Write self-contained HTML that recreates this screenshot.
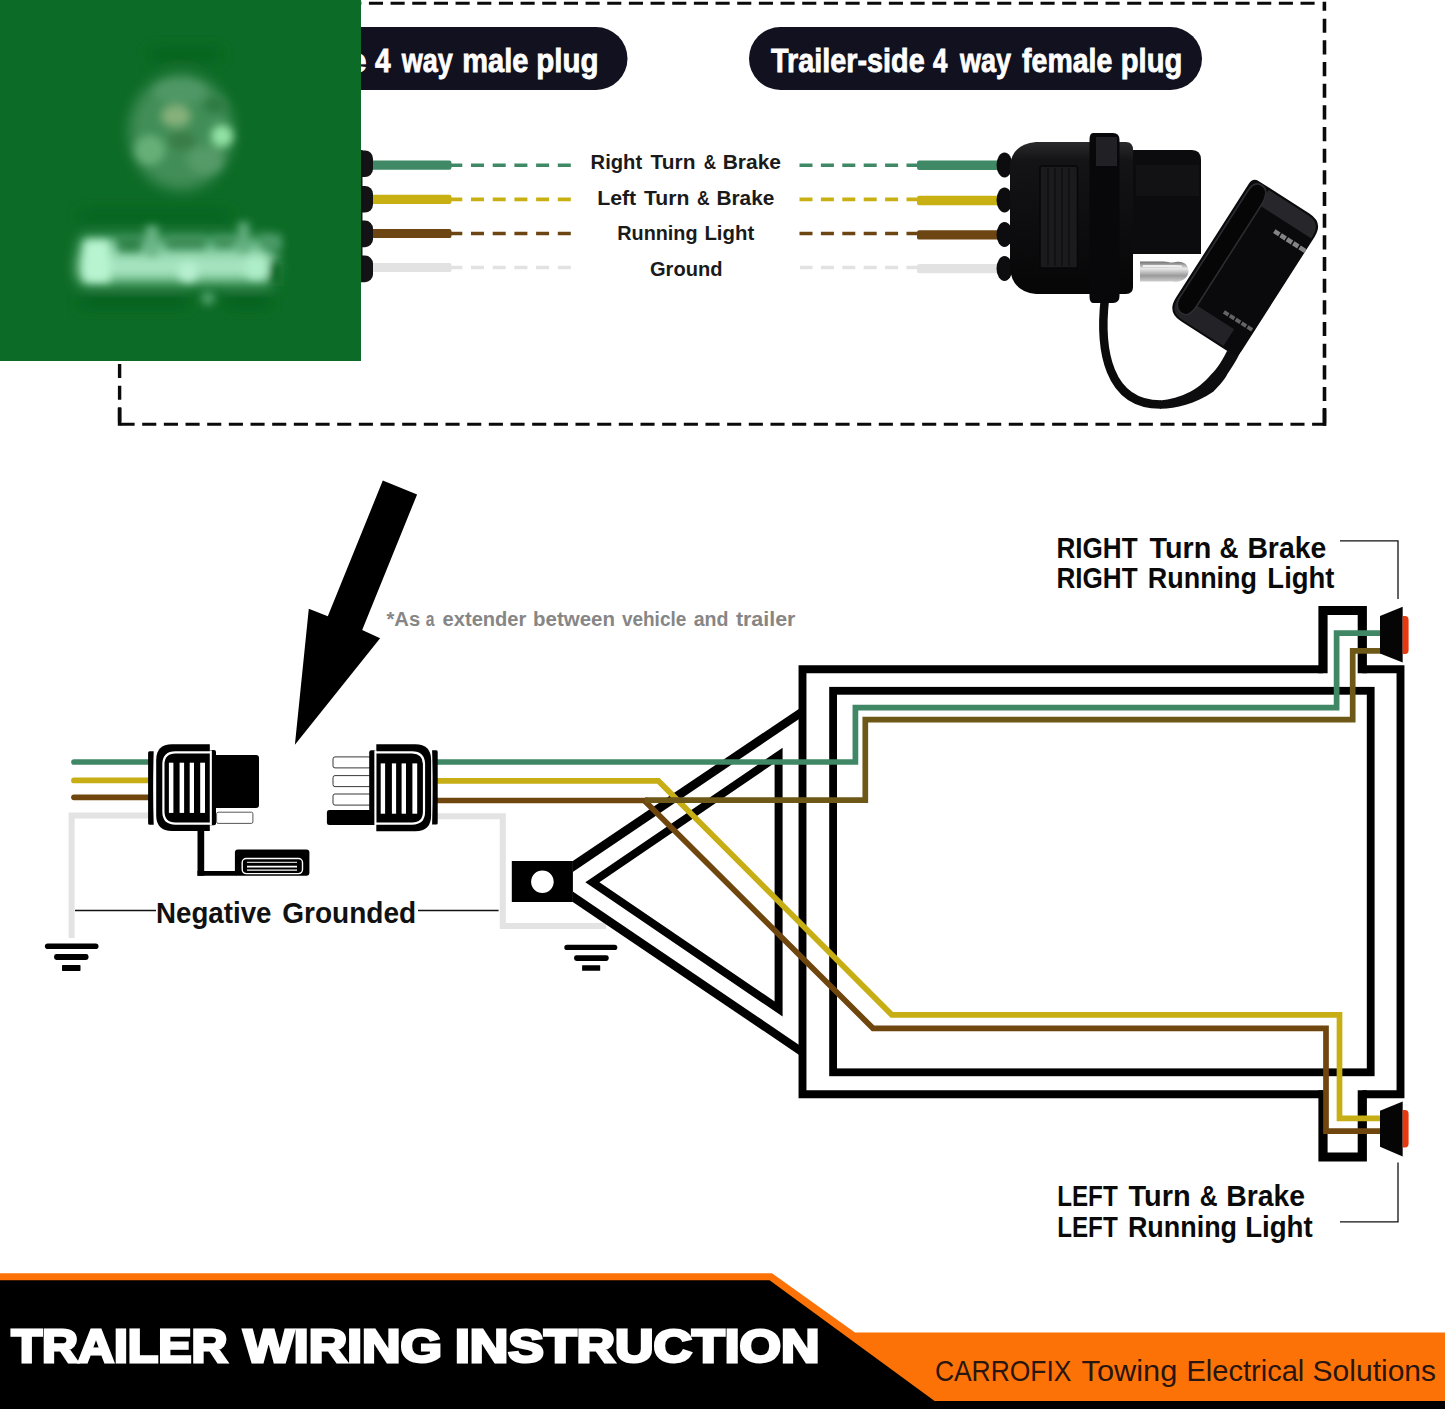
<!DOCTYPE html>
<html>
<head>
<meta charset="utf-8">
<title>Trailer Wiring Instruction</title>
<style>
html,body{margin:0;padding:0;background:#fff;}
body{width:1445px;height:1409px;overflow:hidden;font-family:"Liberation Sans",sans-serif;}
svg{display:block;}
text{font-family:"Liberation Sans",sans-serif;}
</style>
</head>
<body>
<svg width="1445" height="1409" viewBox="0 0 1445 1409">
<defs>
  <filter id="blur8" x="-30%" y="-30%" width="160%" height="160%"><feGaussianBlur stdDeviation="7"/></filter>
  <filter id="blur5" x="-30%" y="-30%" width="160%" height="160%"><feGaussianBlur stdDeviation="4.5"/></filter>
  <filter id="blur3" x="-30%" y="-30%" width="160%" height="160%"><feGaussianBlur stdDeviation="3"/></filter>
  <filter id="blur1" x="-10%" y="-10%" width="120%" height="120%"><feGaussianBlur stdDeviation="0.6"/></filter>
  <linearGradient id="bodyg" x1="0" y1="0" x2="0" y2="1">
    <stop offset="0" stop-color="#2a2a2c"/><stop offset="0.12" stop-color="#141416"/><stop offset="1" stop-color="#060607"/>
  </linearGradient>
  <linearGradient id="pin" x1="0" y1="0" x2="0" y2="1">
    <stop offset="0" stop-color="#6d6d6d"/><stop offset="0.35" stop-color="#e8e8e8"/><stop offset="0.7" stop-color="#9a9a9a"/><stop offset="1" stop-color="#d0d0d0"/>
  </linearGradient>
</defs>
<rect x="0" y="0" width="1445" height="1409" fill="#ffffff"/>

<!-- ===== TOP DASHED BOX ===== -->
<g id="dashbox" fill="none" stroke="#0a0a0a">
  <path d="M1314.6 3.3 H361" stroke-width="3" stroke-dasharray="14.1 7.565"/>
  <path d="M1324.5 18.7 V423" stroke-width="3.6" stroke-dasharray="14.1 7.565"/>
  <path d="M1326.2 424.3 H118" stroke-width="3" stroke-dasharray="14.1 7.565"/>
  <path d="M119.6 421.4 V361" stroke-width="3.4" stroke-dasharray="14.1 7.565"/>
  <path d="M1324.4 1.7 V10.8 M1324.5 408 V425.8 M119.6 408 V425.8" stroke-width="3.6"/>
</g>

<!-- pills -->
<g id="pills">
  <path d="M340 27 H596 A31.5 31.5 0 0 1 596 90 H340 Z" fill="#11111f"/>
  <rect x="749" y="27" width="453" height="63" rx="31.5" fill="#11111f"/>
  <g id="t_pill1" font-size="33" font-weight="700" fill="#fff" stroke="#fff" stroke-width="0.8">
  <text x="374.90" y="72" textLength="15.65" lengthAdjust="spacingAndGlyphs">4</text>
  <text x="401.82" y="72" textLength="51.05" lengthAdjust="spacingAndGlyphs">way</text>
  <text x="462.34" y="72" textLength="66.07" lengthAdjust="spacingAndGlyphs">male</text>
  <text x="536.31" y="72" textLength="62.21" lengthAdjust="spacingAndGlyphs">plug</text>
</g>
  <text x="366.5" y="72" font-size="33" font-weight="700" fill="#fff" stroke="#fff" stroke-width="0.8" text-anchor="end">Vehicle-side</text>
  <g id="t_pill2" font-size="33" font-weight="700" fill="#fff" stroke="#fff" stroke-width="0.8">
  <text x="771.10" y="72" textLength="153.61" lengthAdjust="spacingAndGlyphs">Trailer-side</text>
  <text x="933.10" y="72" textLength="14.39" lengthAdjust="spacingAndGlyphs">4</text>
  <text x="960.02" y="72" textLength="51.05" lengthAdjust="spacingAndGlyphs">way</text>
  <text x="1022.10" y="72" textLength="90.10" lengthAdjust="spacingAndGlyphs">female</text>
  <text x="1120.83" y="72" textLength="61.47" lengthAdjust="spacingAndGlyphs">plug</text>
</g>
</g>

<!-- top wires -->
<g id="topwires">
  <g stroke="#3f8966" fill="#3f8966">
    <rect x="350" y="160.6" width="101.5" height="9.2" rx="2.2" stroke="none"/>
    <path d="M451 165.2 H571" stroke-width="3.6" stroke-dasharray="11.3 8.7 13 8.7 13 8.7 13 8.7 13 8.7 13 8.7" fill="none"/>
    <path d="M918 165.2 H799" stroke-width="3.6" stroke-dasharray="11.5 8.4 13 8.4 13 8.4 13 8.4 13 8.4 13 8.4" fill="none"/>
    <rect x="917" y="160.60000000000002" width="83" height="9.4" rx="2.2" stroke="none"/>
  </g>
  <g stroke="#c8b013" fill="#c8b013">
    <rect x="350" y="194.8" width="101.5" height="9.2" rx="2.2" stroke="none"/>
    <path d="M451 199.4 H571" stroke-width="3.6" stroke-dasharray="11.3 8.7 13 8.7 13 8.7 13 8.7 13 8.7 13 8.7" fill="none"/>
    <path d="M918 199.4 H799" stroke-width="3.6" stroke-dasharray="11.5 8.4 13 8.4 13 8.4 13 8.4 13 8.4 13 8.4" fill="none"/>
    <rect x="917" y="195.8" width="83" height="9.4" rx="2.2" stroke="none"/>
  </g>
  <g stroke="#6c4513" fill="#6c4513">
    <rect x="350" y="228.9" width="101.5" height="9.2" rx="2.2" stroke="none"/>
    <path d="M451 233.5 H571" stroke-width="3.6" stroke-dasharray="11.3 8.7 13 8.7 13 8.7 13 8.7 13 8.7 13 8.7" fill="none"/>
    <path d="M918 233.5 H797" stroke-width="3.6" stroke-dasharray="11.5 8.4 13 8.4 13 8.4 13 8.4 13 8.4 13 8.4" fill="none"/>
    <rect x="917" y="230.20000000000002" width="83" height="9.4" rx="2.2" stroke="none"/>
  </g>
  <g stroke="#e2e2e2" fill="#e2e2e2">
    <rect x="350" y="262.9" width="101.5" height="9.2" rx="2.2" stroke="none"/>
    <path d="M451 267.5 H575" stroke-width="3.6" stroke-dasharray="11.3 8.7 13 8.7 13 8.7 13 8.7 13 8.7 13 8.7" fill="none"/>
    <path d="M918 267.5 H800" stroke-width="3.6" stroke-dasharray="11.5 8.4 13 8.4 13 8.4 13 8.4 13 8.4 13 8.4" fill="none"/>
    <rect x="917" y="263.90000000000003" width="83" height="9.4" rx="2.2" stroke="none"/>
  </g>
</g>

<!-- male plug nubs peeking out from under overlay -->
<g fill="#131315">
  <rect x="350" y="150.4" width="23" height="26.6" rx="8"/>
  <rect x="350" y="186" width="23" height="26.6" rx="8"/>
  <rect x="350" y="220.6" width="23" height="26.6" rx="8"/>
  <rect x="350" y="255.6" width="23" height="26.6" rx="8"/>
  <rect x="350" y="150" width="12.5" height="130"/>
</g>

<!-- top labels -->
<g id="toplabels">
<g id="t_lab1" font-size="20.5" font-weight="700" fill="#1a1a1a">
  <text x="590.62" y="168.8" textLength="51.51" lengthAdjust="spacingAndGlyphs">Right</text>
  <text x="650.60" y="168.8" textLength="44.83" lengthAdjust="spacingAndGlyphs">Turn</text>
  <text x="703.70" y="168.8" textLength="12.34" lengthAdjust="spacingAndGlyphs">&amp;</text>
  <text x="722.68" y="168.8" textLength="58.33" lengthAdjust="spacingAndGlyphs">Brake</text>
</g>
<g id="t_lab2" font-size="20.5" font-weight="700" fill="#1a1a1a">
  <text x="597.16" y="204.6" textLength="39.06" lengthAdjust="spacingAndGlyphs">Left</text>
  <text x="643.90" y="204.6" textLength="45.44" lengthAdjust="spacingAndGlyphs">Turn</text>
  <text x="697.10" y="204.6" textLength="12.63" lengthAdjust="spacingAndGlyphs">&amp;</text>
  <text x="716.48" y="204.6" textLength="57.92" lengthAdjust="spacingAndGlyphs">Brake</text>
</g>
<g id="t_lab3" font-size="20.5" font-weight="700" fill="#1a1a1a">
  <text x="617.23" y="239.8" textLength="80.37" lengthAdjust="spacingAndGlyphs">Running</text>
  <text x="704.41" y="239.8" textLength="49.82" lengthAdjust="spacingAndGlyphs">Light</text>
</g>
<g id="t_lab4" font-size="20.5" font-weight="700" fill="#1a1a1a">
  <text x="650.00" y="275.5" textLength="72.51" lengthAdjust="spacingAndGlyphs">Ground</text>
</g>
</g>

<!-- ===== CONNECTOR PHOTO (approx) ===== -->
<g id="photo">
  <!-- tether cable -->
  <path d="M1105 298 C1099 350 1108 405 1161 404.6" fill="none" stroke="#0b0b0c" stroke-width="8.5"/>
  <path d="M1227 351 C1220 365 1214 372 1211.5 374.1 C1204 383 1196 389 1190.2 391.8 C1180 397 1170 400 1160 400.4 L1160 408.8 C1175 409 1195 404 1213.2 391.8 C1220 385 1225 379 1227.4 374.1 C1232 367 1236 361 1240 353 Z" fill="#0d0d0f"/>
  <!-- silver pin -->
  <path d="M1140 261.5 H1162 C1168 261 1170 263.5 1176 262 C1184 261 1188.5 265 1188.5 271 C1188.5 279 1180 283 1172 281.5 H1140 Z" fill="url(#pin)"/>
  <path d="M1143 266 H1166 C1172 266.5 1176 265.5 1182 266.5" stroke="#f4f4f4" stroke-width="2.2" fill="none" opacity="0.9"/>
  <!-- plug front block -->
  <path d="M1128 150 H1192 Q1201 150 1201 160 V254 H1128 Z" fill="#0c0c0e"/>
  <path d="M1136 165 H1199 V196 H1136 Z" fill="#141416" opacity="0.8"/>
  <!-- nubs -->
  <g fill="#0d0d0f">
    <ellipse cx="1004.5" cy="165" rx="8" ry="12.5"/>
    <ellipse cx="1004.5" cy="200" rx="8" ry="12.5"/>
    <ellipse cx="1004.5" cy="234.5" rx="8" ry="12.5"/>
    <ellipse cx="1004.5" cy="268.5" rx="8" ry="12.5"/>
  </g>
  <!-- main body -->
  <path d="M1036 142 H1126 Q1133 142 1133 150 V287 Q1133 294 1126 294 H1036 Q1012 292 1010 268 V166 Q1012 144 1036 142 Z" fill="url(#bodyg)"/>
  <rect x="1040" y="166" width="37.5" height="102" rx="2" fill="#1b1b1d" stroke="#070708" stroke-width="1.5"/>
  <g stroke="#0a0a0b" stroke-width="1.2" opacity="0.8">
    <path d="M1048 168 V266 M1055 168 V266 M1062 168 V266 M1069 168 V266"/>
  </g>
  <!-- collar -->
  <path d="M1093 133 H1113 Q1119.5 133 1119.5 140 V296 Q1119.5 303 1113 303 H1093 Q1089.5 303 1089.5 296 V140 Q1089.5 133 1093 133 Z" fill="#08080a"/>
  <path d="M1096 137 H1117 V166 H1096 Z" fill="#2a2a2f" opacity="0.75"/>
  <!-- cap -->
  <g transform="translate(1245.2 267.4) rotate(32.6)">
    <path d="M-35 -80 H25 Q42 -80 42 -63 V73 Q42 80 35 80 H-25 Q-42 80 -42 63 V-73 Q-42 -80 -35 -80 Z" fill="#0a0a0c"/>
    <path d="M-22 -78 H25 Q40 -78 40 -63 V-60 H-22 Z" fill="#26262b"/>
    <path d="M-40 58 H24 V78 H-25 Q-40 78 -40 63 Z" fill="#222227"/>
    <path d="M-39 -66 Q-39 -78 -30 -78 Q-20 -78 -20 -60 V58 Q-20 74 -30 73 Q-40 71 -39 56 Z" fill="#060607" stroke="#2c2c31" stroke-width="1.6"/>
    <g fill="#9a9a9a" opacity="0.85">
      <rect x="5" y="-48.5" width="6" height="4.6"/><rect x="12.5" y="-48.5" width="6" height="4.6"/><rect x="20" y="-48.5" width="6" height="4.6"/><rect x="27.5" y="-48.5" width="6" height="4.6"/><rect x="35" y="-48.5" width="7" height="4.6"/>
    </g>
    <g fill="#8a8a8a" opacity="0.7">
      <rect x="6" y="47" width="5.5" height="3.8"/><rect x="13" y="47" width="5.5" height="3.8"/><rect x="20" y="47" width="5.5" height="3.8"/><rect x="27" y="47" width="5.5" height="3.8"/><rect x="34" y="47" width="5.5" height="3.8"/>
    </g>
  </g>
</g>

<!-- ===== GREEN OVERLAY (blurred logo) ===== -->
<g id="greenbox">
  <rect x="0" y="0" width="361" height="361" fill="#0c6b26"/>
  <g filter="url(#blur8)">
    <ellipse cx="181" cy="132" rx="52" ry="58" fill="#438e59"/>
    <rect x="150" y="50" width="70" height="9" fill="#07601f"/>
  </g>
  <g filter="url(#blur5)">
    <ellipse cx="180" cy="92" rx="26" ry="12" fill="#4f9866"/>
    <circle cx="222" cy="136" r="11" fill="#92e2a4"/>
    <ellipse cx="176" cy="116" rx="15" ry="11" fill="#86b07a"/>
    <circle cx="150" cy="150" r="15" fill="#66b078"/>
    <ellipse cx="182" cy="141" rx="14" ry="9" fill="#3a7c46"/>
    <ellipse cx="205" cy="160" rx="18" ry="14" fill="#559a68"/>
    <ellipse cx="215" cy="105" rx="12" ry="8" fill="#2f7a42"/>
  </g>
  <g filter="url(#blur8)">
    <rect x="78" y="252" width="198" height="30" rx="6" fill="#a6e4bf"/>
    <rect x="80" y="238" width="190" height="16" rx="4" fill="#6fbf8f"/>
    <rect x="80" y="298" width="108" height="8" fill="#045c1c"/>
    <rect x="225" y="298" width="45" height="8" fill="#045c1c"/>
    <rect x="80" y="213" width="150" height="7" fill="#06601f"/>
  </g>
  <g filter="url(#blur5)">
    <rect x="84" y="240" width="26" height="42" fill="#b8f4d0"/>
    <rect x="118" y="236" width="24" height="16" fill="#2f8249"/>
    <rect x="146" y="226" width="12" height="30" fill="#6cb587"/>
    <rect x="166" y="236" width="40" height="13" fill="#3b8a55"/>
    <rect x="238" y="222" width="11" height="30" fill="#62ad7e"/>
    <rect x="214" y="236" width="20" height="12" fill="#3f8f5a"/>
    <rect x="262" y="234" width="20" height="16" fill="#4c9a68"/>
    <circle cx="188" cy="272" r="10" fill="#b8f0d2"/>
    <circle cx="256" cy="268" r="11" fill="#aeeec8"/>
    <circle cx="208" cy="298" r="7" fill="#4fa06a"/>
    <rect x="270" y="262" width="14" height="24" fill="#0c6b26"/>
  </g>
</g>

<!-- ===== MIDDLE DIAGRAM ===== -->
<g id="frame" fill="none" stroke="#000" stroke-linejoin="miter">
  <!-- outer frame with lamp notches -->
  <path d="M1323 669.3 H802.5 V1094.2 H1323" stroke-width="7.9"/>
  <path d="M1362.3 669.3 H1400.5 V1094.2 H1362.3" stroke-width="7.9"/>
  <path d="M1323 673.25 V610.5 H1362.3 V673.25" stroke-width="9.2"/>
  <path d="M1323 1090.25 V1157 H1362.3 V1090.25" stroke-width="9.2"/>
  <!-- inner rect -->
  <rect x="833.1" y="690.8" width="537.6" height="381.5" stroke-width="7.8"/>
  <!-- A-frame outer -->
  <path d="M572.8 861.1 L799.5 708.4 V718.7 L572.8 871.9 Z" fill="#000" stroke="none"/>
  <!-- inner triangle -->
  <path d="M592.4 882.2 L778.6 755.4 V1009 Z" stroke-width="8"/>
</g>
<!-- hitch block -->
<path d="M511.8 861.1 H572.9 V902 H511.8 Z M553.7 881.8 A11.3 11.3 0 1 0 531.1 881.8 A11.3 11.3 0 1 0 553.7 881.8 Z" fill="#000" fill-rule="evenodd"/>

<!-- gray ground wires -->
<g fill="none" stroke="#e3e3e3" stroke-width="6" stroke-linejoin="miter">
  <path d="M150 815.5 H71.6 V938"/>
  <path d="M437 816.2 H502.8 V926 H606"/>
</g>
<!-- hitch lines over gray wire -->
<path d="M572.8 902 L799.5 1055.2 V1045.2 L572.8 891.4 Z" fill="#000"/>

<!-- coloured wires -->
<g fill="none" stroke-width="5.7" stroke-linejoin="miter">
  <path d="M74 797.3 H150" stroke="#70460f" stroke-linecap="round"/>
  <path d="M74 780.4 H150" stroke="#c6ae14" stroke-linecap="round"/>
  <path d="M74 762 H150" stroke="#3f8765" stroke-linecap="round"/>
  <path d="M644 800.2 L873 1028.3 H1326 V1131.2 H1381" stroke="#70460f"/>
  <path d="M437 780.9 H658.4 L891.8 1014.8 H1339.5 V1118.4 H1381" stroke="#c6ae14"/>
  <path d="M437 800.5 H648" stroke="#70460f"/>
  <path d="M645 800.2 H865.3 V719.7 H1352.7 V650.8 H1381" stroke="#6e5818"/>
  <path d="M437 762 H855.4 V707.7 H1336.6 V633.2 H1381" stroke="#3f8765"/>
</g>

<!-- lamps -->
<g id="lamps">
  <path d="M1380 616 L1402.7 606.7 V662.4 L1380 653.5 Z" fill="#050505"/>
  <path d="M1402.7 616 H1405 Q1408.6 616 1408.6 620 V650 Q1408.6 654 1405 654 H1402.7 Z" fill="#e8380f"/>
  <path d="M1380 1110.7 L1402.7 1101.4 V1156.4 L1380 1146.8 Z" fill="#050505"/>
  <path d="M1402.7 1110 H1405 Q1408.6 1110 1408.6 1114 V1143.4 Q1408.6 1147.4 1405 1147.4 H1402.7 Z" fill="#e8380f"/>
</g>

<!-- callouts -->
<g fill="none" stroke="#111" stroke-width="1.3">
  <path d="M1340 540.8 H1398 V599"/>
  <path d="M1340 1221.8 H1398 V1162.5"/>
  <path d="M75 910.5 H156"/>
  <path d="M418 910.5 H498.6"/>
</g>

<!-- ground symbols -->
<g fill="#000">
  <rect x="44.9" y="943.5" width="53.6" height="5.6" rx="2.8"/>
  <rect x="54.1" y="954.1" width="34.4" height="5.9" rx="2.4"/>
  <rect x="62" y="965.1" width="18.5" height="5.8" rx="0.6"/>
  <rect x="564.3" y="944.7" width="53" height="5.4" rx="2.7"/>
  <rect x="574.1" y="955.2" width="34.6" height="5.7" rx="2.4"/>
  <rect x="582.1" y="965.2" width="18.1" height="5.6" rx="0.6"/>
</g>

<!-- left (male) connector icon -->
<g id="connL">
  <path d="M149.6 751.2 H153.7 Q152.6 788 153.7 824.7 H149.6 Q148.1 824.7 148.1 823.2 V752.7 Q148.1 751.2 149.6 751.2 Z" fill="#000"/>
  <path d="M172 744.3 H209.8 V830.9 H172 Q156.2 830.9 156.2 815 V760 Q156.2 744.3 172 744.3 Z" fill="#000"/>
  <path d="M210 750 H214 Q216 750 216 752 V823.3 Q216 825.3 214 825.3 H210 Z" fill="#000"/>
  <path d="M211 752.4 H175.5 Q163.4 752.4 163.4 764.5 V811.6 Q163.4 823.7 175.5 823.7 H211" fill="none" stroke="#fff" stroke-width="2.2"/>
  <path d="M210.9 750.4 V825.1" stroke="#fff" stroke-width="1.9"/>
  <g fill="#fff">
    <rect x="168.9" y="762.7" width="4.5" height="50.2"/>
    <rect x="179.6" y="762.7" width="4.5" height="50.2"/>
    <rect x="189.7" y="762.7" width="4.3" height="50.2"/>
    <rect x="200.2" y="762.7" width="4.8" height="50.2"/>
  </g>
  <path d="M215.8 754.9 H256 Q259 754.9 259 757.9 V804.9 Q259 807.9 256 807.9 H215.8 Z" fill="#000"/>
  <rect x="216.6" y="812.2" width="36.3" height="11.2" rx="1.5" fill="#fff" stroke="#444" stroke-width="0.9"/>
  <path d="M200.85 829 V875.8" fill="none" stroke="#000" stroke-width="6.7"/>
  <path d="M197.5 873.4 H237" fill="none" stroke="#000" stroke-width="4.8"/>
  <rect x="234.9" y="849.4" width="74.5" height="26.4" rx="3" fill="#000"/>
  <rect x="242.2" y="858.5" width="60.3" height="15.1" rx="4" fill="none" stroke="#fff" stroke-width="1.4"/>
  <path d="M247 862.3 H297" stroke="#fff" stroke-width="1"/>
  <path d="M247 866.6 H297" stroke="#fff" stroke-width="1.7"/>
  <path d="M247 870.2 H297" stroke="#fff" stroke-width="1.3"/>
</g>

<!-- right (female) connector icon -->
<g id="connR">
  <g fill="#fff" stroke="#222" stroke-width="0.9">
    <rect x="333" y="756.9" width="38" height="11" rx="2"/>
    <rect x="333" y="775.6" width="38" height="11" rx="2"/>
    <rect x="333" y="794" width="38" height="11.1" rx="2"/>
  </g>
  <path d="M329.4 810.1 H376 V824.9 H329.4 Q326.9 824.9 326.9 822.4 V812.6 Q326.9 810.1 329.4 810.1 Z" fill="#000"/>
  <path d="M371.2 750.2 H375.5 V824.9 H369.2 V752.2 Q369.2 750.2 371.2 750.2 Z" fill="#000"/>
  <path d="M376.3 744.3 H415.3 Q431.1 744.3 431.1 760 V815.4 Q431.1 831.2 415.3 831.2 H376.3 Z" fill="#000"/>
  <path d="M375 752.4 H412 Q424 752.4 424 764.5 V811.6 Q424 823.7 412 823.7 H375" fill="none" stroke="#fff" stroke-width="2.2"/>
  <path d="M375.3 750.4 V825.1" stroke="#fff" stroke-width="1.9"/>
  <g fill="#fff">
    <rect x="380.7" y="763.4" width="4.4" height="50.3"/>
    <rect x="391.9" y="763.4" width="4.2" height="50.3"/>
    <rect x="401.6" y="763.4" width="4.4" height="50.3"/>
    <rect x="412.4" y="763.4" width="4.8" height="50.3"/>
  </g>
  <path d="M432.1 750.2 H436.2 Q437.7 750.2 437.7 751.7 V822.9 Q437.7 824.4 436.2 824.4 H432.1 Q433.2 787 432.1 750.2 Z" fill="#000"/>
</g>

<!-- big arrow -->
<path d="M382.8 480.6 L417.1 494.4 L362.2 630 L380.1 638.2 L294.9 744.7 L308.8 608.7 L327.8 616.2 Z" fill="#000"/>

<!-- text -->
<g id="t_note" font-size="20" font-weight="700" fill="#868686">
  <text x="386.50" y="625.5" textLength="33.72" lengthAdjust="spacingAndGlyphs">*As</text>
  <text x="425.70" y="625.5" textLength="8.71" lengthAdjust="spacingAndGlyphs">a</text>
  <text x="442.60" y="625.5" textLength="83.78" lengthAdjust="spacingAndGlyphs">extender</text>
  <text x="533.08" y="625.5" textLength="81.87" lengthAdjust="spacingAndGlyphs">between</text>
  <text x="621.90" y="625.5" textLength="64.42" lengthAdjust="spacingAndGlyphs">vehicle</text>
  <text x="693.70" y="625.5" textLength="34.79" lengthAdjust="spacingAndGlyphs">and</text>
  <text x="735.90" y="625.5" textLength="59.57" lengthAdjust="spacingAndGlyphs">trailer</text>
</g>
<g id="t_neg" font-size="29.3" font-weight="700" fill="#111">
  <text x="156.05" y="923.4" textLength="115.42" lengthAdjust="spacingAndGlyphs">Negative</text>
  <text x="282.24" y="923.4" textLength="133.97" lengthAdjust="spacingAndGlyphs">Grounded</text>
</g>
<g id="t_r1" font-size="29.8" font-weight="700" fill="#0a0a0a">
  <text x="1056.45" y="558" textLength="81.13" lengthAdjust="spacingAndGlyphs">RIGHT</text>
  <text x="1149.60" y="558" textLength="61.66" lengthAdjust="spacingAndGlyphs">Turn</text>
  <text x="1219.62" y="558" textLength="19.04" lengthAdjust="spacingAndGlyphs">&amp;</text>
  <text x="1247.40" y="558" textLength="78.85" lengthAdjust="spacingAndGlyphs">Brake</text>
</g>
<g id="t_r2" font-size="29.8" font-weight="700" fill="#0a0a0a">
  <text x="1056.45" y="588.2" textLength="81.13" lengthAdjust="spacingAndGlyphs">RIGHT</text>
  <text x="1147.79" y="588.2" textLength="109.19" lengthAdjust="spacingAndGlyphs">Running</text>
  <text x="1267.36" y="588.2" textLength="67.07" lengthAdjust="spacingAndGlyphs">Light</text>
</g>
<g id="t_l1" font-size="29.8" font-weight="700" fill="#0a0a0a">
  <text x="1057.18" y="1206.3" textLength="60.49" lengthAdjust="spacingAndGlyphs">LEFT</text>
  <text x="1128.60" y="1206.3" textLength="62.07" lengthAdjust="spacingAndGlyphs">Turn</text>
  <text x="1199.67" y="1206.3" textLength="17.86" lengthAdjust="spacingAndGlyphs">&amp;</text>
  <text x="1226.30" y="1206.3" textLength="78.85" lengthAdjust="spacingAndGlyphs">Brake</text>
</g>
<g id="t_l2" font-size="29.8" font-weight="700" fill="#0a0a0a">
  <text x="1057.18" y="1236.8" textLength="60.49" lengthAdjust="spacingAndGlyphs">LEFT</text>
  <text x="1127.89" y="1236.8" textLength="109.19" lengthAdjust="spacingAndGlyphs">Running</text>
  <text x="1245.14" y="1236.8" textLength="67.58" lengthAdjust="spacingAndGlyphs">Light</text>
</g>

<!-- ===== BOTTOM BANNER ===== -->
<g id="banner">
  <path d="M0 1273.2 H772 L855 1332.5 H1445 V1401.5 H0 Z" fill="#fd7207"/>
  <path d="M0 1280.3 H769.6 L934.6 1401 H1445 V1409 H0 Z" fill="#000"/>
  <g font-size="47" font-weight="700" fill="#fff" stroke="#fff" stroke-width="3" stroke-linejoin="miter" paint-order="stroke">
    <text x="11.5" y="1362.3" textLength="216" lengthAdjust="spacingAndGlyphs">TRAILER</text>
    <text x="243.5" y="1362.3" textLength="198.5" lengthAdjust="spacingAndGlyphs">WIRING</text>
    <text x="455" y="1362.3" textLength="364.5" lengthAdjust="spacingAndGlyphs">INSTRUCTION</text>
  </g>
  <g id="t_carro" font-size="29.5" font-weight="400" fill="#2a1611">
  <text x="934.90" y="1381.2" textLength="136.61" lengthAdjust="spacingAndGlyphs">CARROFIX</text>
  <text x="1081.50" y="1381.2" textLength="95.77" lengthAdjust="spacingAndGlyphs">Towing</text>
  <text x="1186.43" y="1381.2" textLength="117.90" lengthAdjust="spacingAndGlyphs">Electrical</text>
  <text x="1312.58" y="1381.2" textLength="123.48" lengthAdjust="spacingAndGlyphs">Solutions</text>
</g>
</g>

</svg>
</body>
</html>
